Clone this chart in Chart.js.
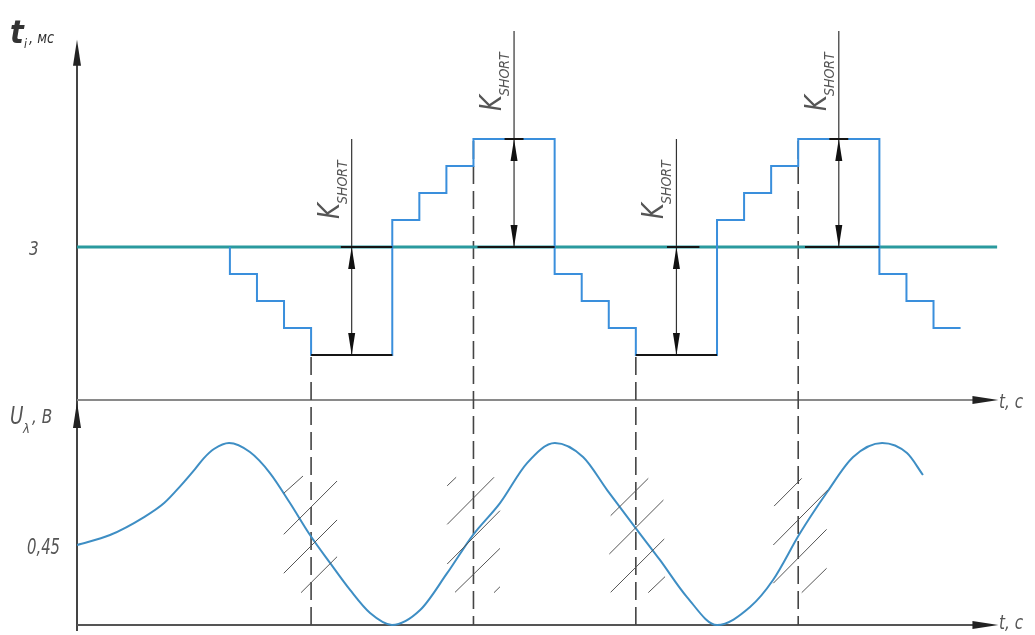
<!DOCTYPE html>
<html lang="ru">
<head>
<meta charset="utf-8">
<title>t_i / U_λ</title>
<script src="https://cdn.jsdelivr.net/npm/chart.js@4.4.1/dist/chart.umd.min.js"></script>
<style>
    html, body { margin: 0; padding: 0; background: #fff; }
    #chart { display: block; }
</style>
</head>
<body>
<canvas id="chart" width="1035" height="635"></canvas>
<script>
// Time in staircase steps (one step = one unit)
const levelRef = 3;                       // t_i reference, ms
const levelX = [0, 34.0];

// Stepped t_i, ms
const stepX = [5.65, 5.65, 6.65, 7.65, 8.65, 11.65, 12.65, 13.65, 14.65, 17.65, 18.65,
               19.65, 20.65, 23.65, 24.65, 25.65, 26.65, 29.65, 30.65, 31.65, 32.65];
const stepY = [3, 2.75, 2.5, 2.25, 2.0, 3.25, 3.5, 3.75, 4.0, 2.75, 2.5,
               2.25, 2.0, 3.25, 3.5, 3.75, 4.0, 2.75, 2.5, 2.25, 2.25];

// U_λ, V
const uX = [0, 1.22, 2.48, 3.22, 3.81, 4.36, 4.69, 5.06, 5.62, 6.39, 7.13, 7.87, 8.61, 9.35, 10.09, 10.83, 11.64,
            12.68, 13.67, 14.63, 15.63, 16.63, 17.66, 18.70, 19.59, 20.70, 21.54, 22.54, 23.65,
            24.87, 25.72, 26.72, 27.72, 28.68, 29.75, 30.67, 31.26];
const uY = [0.45, 0.506, 0.607, 0.686, 0.78, 0.877, 0.939, 0.990, 1.024, 0.973, 0.855, 0.686, 0.506, 0.349, 0.197, 0.067, 0.0,
            0.084, 0.29, 0.506, 0.686, 0.911, 1.024, 0.945, 0.759, 0.534, 0.366, 0.157, 0.0,
            0.101, 0.253, 0.517, 0.748, 0.945, 1.024, 0.967, 0.844];

const tickT = [3];
const tickU = [0.45];

// Switching moments (dashed lines)
const switchX = [8.65, 14.65, 20.65, 26.65];
const switchLevel = [2.0, 4.0, 2.0, 4.0];

// K_SHORT dimension lines
const kX = [10.15, 16.15, 22.15, 28.15];
const kTop = [4.0, 5.0, 4.0, 5.0];
const kHigh = [3.0, 4.0, 3.0, 4.0];
const kLow = [2.0, 3.0, 2.0, 3.0];

// Extension lines: [x1, x2, level]
const extLines = [
    [9.75, 11.65, 3], [8.65, 11.65, 2],
    [14.8, 17.65, 3], [15.8, 16.5, 4],
    [21.8, 23.0, 3], [20.65, 23.65, 2],
    [26.9, 29.65, 3], [27.8, 28.5, 4]
];

// Hatching near threshold crossings: [x1, u1, x2, u2]
const hatch = [
    [7.64, 0.741, 8.35, 0.838], [7.64, 0.510, 9.61, 0.810], [7.64, 0.291, 9.61, 0.591], [8.28, 0.182, 9.61, 0.384],
    [13.68, 0.783, 14.01, 0.831], [13.68, 0.566, 15.41, 0.831], [13.68, 0.343, 15.63, 0.643],
    [13.97, 0.184, 15.63, 0.431], [15.41, 0.182, 15.63, 0.215],
    [19.72, 0.615, 21.11, 0.825], [19.67, 0.399, 21.67, 0.703], [19.72, 0.184, 21.70, 0.484], [21.11, 0.182, 21.73, 0.272],
    [25.76, 0.669, 26.78, 0.825], [25.73, 0.450, 27.74, 0.759], [25.73, 0.235, 27.70, 0.538], [26.78, 0.182, 27.70, 0.319]
];

// Scale ranges (both panels share one canvas)
const X_MAX = 35.4;
const T_MIN = -0.593, T_MAX = 5.287;
const U_MIN = -0.0563, U_MAX = 3.516;
const T_AXIS = 1.583;     // where the upper time axis sits
const T_ARROW = 4.92;
const U_ARROW = 1.255;
const X_ARROW = 34.05;

const FONT = "'DejaVu Sans Condensed', 'Liberation Sans Narrow', 'DejaVu Sans', sans-serif";

function pts(xs, ys) {
    return xs.map((x, i) => ({ x, y: ys[i] }));
}

function segments(list) {
    const out = [];
    list.forEach(s => {
        out.push({ x: s[0], y: s[1] }, { x: s[2], y: s[3] }, { x: s[2], y: null });
    });
    return out;
}

function arrowHead(ctx, tx, ty, dx, dy, len, half) {
    const bx = tx - dx * len, by = ty - dy * len;
    ctx.beginPath();
    ctx.moveTo(tx, ty);
    ctx.lineTo(bx - dy * half, by + dx * half);
    ctx.lineTo(bx + dy * half, by - dx * half);
    ctx.closePath();
    ctx.fill();
}

function text(ctx, str, x, y, size, style, squeeze) {
    ctx.save();
    ctx.translate(x, y);
    ctx.scale(squeeze || 1, 1);
    ctx.font = `${style || 'italic'} ${size}px ${FONT}`;
    ctx.fillText(str, 0, 0);
    const w = ctx.measureText(str).width * (squeeze || 1);
    ctx.restore();
    return w;
}

const drawingPlugin = {
    id: 'drawing',
    beforeDatasetsDraw(chart) {
        const { ctx, scales: { x, yT, yU } } = chart;
        const x0 = x.getPixelForValue(0);
        ctx.save();
        // vertical axis
        ctx.strokeStyle = '#444';
        ctx.lineWidth = 2;
        ctx.beginPath();
        ctx.moveTo(x0, yU.getPixelForValue(0) + 6);
        ctx.lineTo(x0, yT.getPixelForValue(T_ARROW) + 10);
        ctx.stroke();
        // time axes
        ctx.strokeStyle = '#8a8a8a';
        ctx.beginPath();
        ctx.moveTo(x0, yT.getPixelForValue(T_AXIS));
        ctx.lineTo(x.getPixelForValue(X_ARROW) - 10, yT.getPixelForValue(T_AXIS));
        ctx.stroke();
        ctx.strokeStyle = '#555';
        ctx.beginPath();
        ctx.moveTo(x0, yU.getPixelForValue(0));
        ctx.lineTo(x.getPixelForValue(X_ARROW) - 10, yU.getPixelForValue(0));
        ctx.stroke();
        // switching moments
        ctx.strokeStyle = '#444';
        ctx.lineWidth = 1.6;
        ctx.setLineDash([18, 7]);
        switchX.forEach((sx, i) => {
            const px = x.getPixelForValue(sx);
            ctx.beginPath();
            ctx.moveTo(px, yT.getPixelForValue(switchLevel[i]) + 2);
            ctx.lineTo(px, yU.getPixelForValue(0));
            ctx.stroke();
        });
        ctx.restore();
    },
    afterDatasetsDraw(chart) {
        const { ctx, scales: { x, yT, yU } } = chart;
        const x0 = x.getPixelForValue(0);
        ctx.save();
        ctx.fillStyle = '#222';
        // axis arrows
        arrowHead(ctx, x0, yT.getPixelForValue(T_ARROW), 0, -1, 26, 4);
        arrowHead(ctx, x0, yU.getPixelForValue(U_ARROW), 0, -1, 26, 4);
        arrowHead(ctx, x.getPixelForValue(X_ARROW), yT.getPixelForValue(T_AXIS), 1, 0, 26, 4);
        arrowHead(ctx, x.getPixelForValue(X_ARROW), yU.getPixelForValue(0), 1, 0, 26, 4);

        // K_SHORT arrows and labels
        kX.forEach((kx, i) => {
            const px = x.getPixelForValue(kx);
            ctx.fillStyle = '#111';
            arrowHead(ctx, px, yT.getPixelForValue(kHigh[i]), 0, -1, 22, 3.5);
            arrowHead(ctx, px, yT.getPixelForValue(kLow[i]), 0, 1, 22, 3.5);
            ctx.save();
            ctx.fillStyle = '#555';
            ctx.translate(px - 13, yT.getPixelForValue(kTop[i]) + 80);
            ctx.rotate(-Math.PI / 2);
            const w = text(ctx, 'K', 0, 0, 30, 'italic', 0.9);
            text(ctx, 'SHORT', w - 1, 8, 14, 'italic', 1);
            ctx.restore();
        });

        // axis titles
        ctx.fillStyle = '#333';
        text(ctx, 't', 10, 43, 32, 'bold italic');
        text(ctx, 'i', 24, 48, 12, 'italic');
        text(ctx, ', мс', 29, 43, 16, 'italic', 0.9);
        ctx.fillStyle = '#555';
        text(ctx, 'U', 10, 424, 24, 'italic', 0.85);
        text(ctx, 'λ', 23, 433, 13, 'italic');
        text(ctx, ', В', 32, 423, 20, 'italic', 0.85);
        text(ctx, 't, с', 999, yT.getPixelForValue(T_AXIS) + 8, 20, 'italic', 0.85);
        text(ctx, 't, с', 999, yU.getPixelForValue(0) + 4, 20, 'italic', 0.85);

        // tick labels
        tickT.forEach(v => text(ctx, String(v), 29, yT.getPixelForValue(v) + 8, 20, 'italic', 0.85));
        tickU.forEach(v => text(ctx, v.toFixed(2).replace('.', ','), 27, yU.getPixelForValue(v) + 9, 22, 'italic', 0.75));
        ctx.restore();
    }
};

const kLines = [];
kX.forEach((kx, i) => {
    kLines.push({ x: kx, y: kTop[i] }, { x: kx, y: kLow[i] }, { x: kx, y: null });
});
const extData = segments(extLines.map(e => [e[0], e[2], e[1], e[2]]));

const ctx = document.getElementById('chart').getContext('2d');
const chart = new Chart(ctx, {
    type: 'line',
    data: {
        datasets: [
            {
                label: 'ext',
                data: extData,
                yAxisID: 'yT',
                borderColor: '#151515',
                borderWidth: 2,
                pointRadius: 0,
                order: 0
            },
            {
                label: 'K_SHORT',
                data: kLines,
                yAxisID: 'yT',
                borderColor: '#333',
                borderWidth: 1.2,
                pointRadius: 0,
                order: 0
            },
            {
                label: 'hatch',
                data: segments(hatch),
                yAxisID: 'yU',
                borderColor: '#555',
                borderWidth: 1,
                pointRadius: 0,
                order: 0
            },
            {
                label: 't_i',
                data: pts(stepX, stepY),
                yAxisID: 'yT',
                stepped: 'before',
                borderColor: '#3a8fdc',
                borderWidth: 2,
                pointRadius: 0,
                order: 1
            },
            {
                label: 'U_λ',
                data: pts(uX, uY),
                yAxisID: 'yU',
                borderColor: '#3e8ec4',
                borderWidth: 2,
                cubicInterpolationMode: 'monotone',
                pointRadius: 0,
                order: 1
            },
            {
                label: 'ref',
                data: pts(levelX, [levelRef, levelRef]),
                yAxisID: 'yT',
                borderColor: '#2a9a9e',
                borderWidth: 3,
                pointRadius: 0,
                order: 2
            }
        ]
    },
    options: {
        responsive: false,
        devicePixelRatio: 1,
        animation: false,
        layout: { padding: { left: 77, right: 0, top: 0, bottom: 0 }, autoPadding: false },
        plugins: {
            legend: { display: false },
            tooltip: { enabled: false }
        },
        scales: {
            x: { type: 'linear', min: 0, max: X_MAX, display: false },
            yT: { type: 'linear', min: T_MIN, max: T_MAX, display: false },
            yU: { type: 'linear', min: U_MIN, max: U_MAX, display: false }
        }
    },
    plugins: [drawingPlugin]
});
</script>
</body>
</html>
